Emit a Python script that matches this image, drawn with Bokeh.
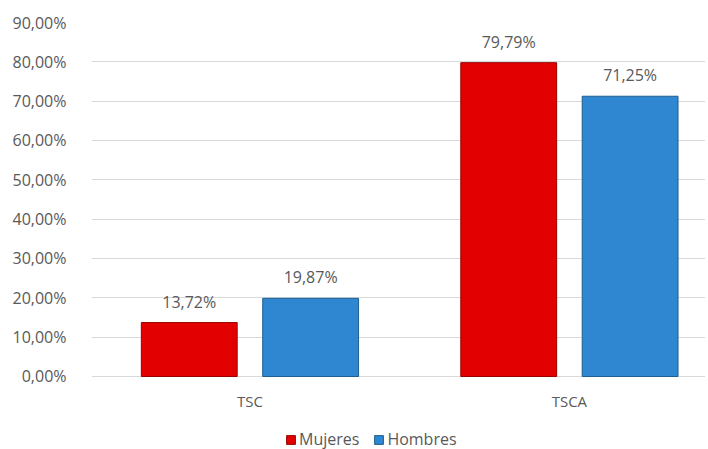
from bokeh.plotting import figure
from bokeh.models import ColumnDataSource, FixedTicker, Legend, LegendItem, CustomJSTickFormatter, LabelSet
from bokeh.core.properties import value
from bokeh.embed import file_html
from bokeh.resources import INLINE

categories = ["TSC", "TSCA"]
mujeres = [13.72, 79.79]
hombres = [19.87, 71.25]
series_names = ["Mujeres", "Hombres"]
y_ticks = [0, 10, 20, 30, 40, 50, 60, 70, 80, 90]

FONT = "Open Sans"
GRAY = "#595959"

xs = list(range(len(categories)))
off = 0.19
bw = 0.30

def fmt(v):
    return ("%.2f" % v).replace(".", ",") + "%"

src_m = ColumnDataSource(dict(x=[x - off for x in xs], top=mujeres, lbl=[fmt(v) for v in mujeres]))
src_h = ColumnDataSource(dict(x=[x + off for x in xs], top=hombres, lbl=[fmt(v) for v in hombres]))
src_c = ColumnDataSource(dict(x=xs, y=[0] * len(xs), lbl=categories))

# frame extends below zero so the legend/category labels can sit inside it
p = figure(width=705, height=449, output_backend="svg", toolbar_location=None,
           x_range=(-0.496, 1.426), y_range=(-18.56, 90))
p.min_border_left = 91
p.min_border_right = 0
p.min_border_top = 22
p.min_border_bottom = 0
p.outline_line_color = None
p.background_fill_color = "white"
p.border_fill_color = "white"

rm = p.vbar(x="x", top="top", width=bw, bottom=0, source=src_m,
            fill_color="#E30000", line_color="#9A0000", line_width=1)
rh = p.vbar(x="x", top="top", width=bw, bottom=0, source=src_h,
            fill_color="#2E87D0", line_color="#1D5E8F", line_width=1)

for s in (src_m, src_h):
    lab = LabelSet(x="x", y="top", text="lbl", source=s, text_align="center",
                   text_baseline="bottom", y_offset=10, text_font=value(FONT),
                   text_font_size="16px", text_color=GRAY)
    p.add_layout(lab)

cat_labels = LabelSet(x="x", y="y", text="lbl", source=src_c, text_align="center",
                      text_baseline="middle", y_offset=-25, text_font=value(FONT),
                      text_font_size="15px", text_color=GRAY)
p.add_layout(cat_labels)

p.yaxis.ticker = FixedTicker(ticks=y_ticks)
p.yaxis.formatter = CustomJSTickFormatter(code="return tick.toFixed(2).replace('.', ',') + '%';")
p.yaxis.axis_line_color = None
p.yaxis.major_tick_line_color = None
p.yaxis.minor_tick_line_color = None
p.yaxis.major_label_standoff = 19
p.yaxis.major_label_text_font = FONT
p.yaxis.major_label_text_font_size = "16px"
p.yaxis.major_label_text_color = GRAY

p.xaxis.visible = False

p.xgrid.grid_line_color = None
p.ygrid.ticker = FixedTicker(ticks=y_ticks)
p.ygrid.grid_line_color = "#D9D9D9"
p.ygrid.grid_line_width = 1

legend = Legend(items=[LegendItem(label=series_names[0], renderers=[rm]),
                       LegendItem(label=series_names[1], renderers=[rh])],
                orientation="horizontal", location=(194, -1),
                label_text_font=FONT, label_text_font_size="16px", label_text_color=GRAY,
                glyph_width=11, glyph_height=11, spacing=14, label_standoff=3,
                padding=0, margin=0, background_fill_alpha=0, border_line_color=None)
p.add_layout(legend, "center")

open("out.html", "w").write(file_html(p, INLINE))
